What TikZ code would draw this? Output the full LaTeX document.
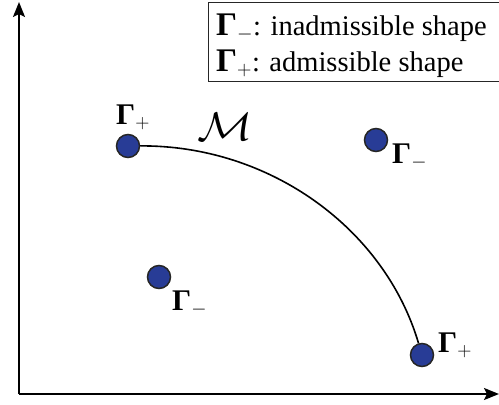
\RequirePackage{fix-cm}
\documentclass[tikz,border=0pt]{standalone}
\usepackage{fontspec}
\setmainfont{Liberation Serif}
\usetikzlibrary{arrows.meta}
\definecolor{dotblue}{RGB}{40,60,150}
\newcommand{\GamB}[1]{{\fontsize{#1}{#1}\selectfont\textbf{Γ}}}
\tikzset{
  axis/.style={line width=2pt,-{Stealth[length=15pt,width=12pt,inset=3pt]}},
  pt/.style={circle,draw=black!85,line width=1.5pt,fill=dotblue,minimum size=23pt,inner sep=0pt},
  lbl/.style={font=\fontsize{28}{32}\selectfont,inner sep=0pt,anchor=base west},
  legtxt/.style={font=\fontsize{28.5}{34}\selectfont,inner sep=0pt,anchor=base west},
}
\begin{document}
\begin{tikzpicture}[x=1pt,y=-1pt]
\useasboundingbox (0,0) rectangle (499,405);
\coordinate (o) at (19,394);
\coordinate (ytop) at (19,2);
\coordinate (xend) at (499,394);
\draw[axis] (o) -- (ytop);
\draw[axis] (o) -- (xend);
\node[draw=black!85,line width=1pt,anchor=north west,minimum width=295pt,minimum height=79pt,inner sep=0pt] (leg) at (207.5,2) {};
\node[legtxt] (leg1) at (216,35) {\GamB{33}$_{-}$: inadmissible shape};
\node[legtxt] (leg2) at (216,71) {\GamB{33}$_{+}$: admissible shape};
\node[pt] (p1) at (128,146) {};
\node[pt] (p2) at (376,140) {};
\node[pt] (p3) at (159,277) {};
\node[pt] (p4) at (422,355) {};
\draw[line width=1.6pt] (p1) .. controls (269,145) and (384.5,228) .. (p4);
\node[lbl] (l1) at (116,124) {\GamB{30}$_{+}$};
\node[lbl] (l2) at (392,163) {\GamB{30}$_{-}$};
\node[lbl] (l3) at (172,310) {\GamB{30}$_{-}$};
\node[lbl] (l4) at (438,352) {\GamB{30}$_{+}$};
\node[inner sep=0pt,anchor=base west] (m) at (197,140) {\scalebox{4.6}[4.0]{\fontsize{10}{12}\selectfont$\mathcal{M}$}};
\end{tikzpicture}
\end{document}
